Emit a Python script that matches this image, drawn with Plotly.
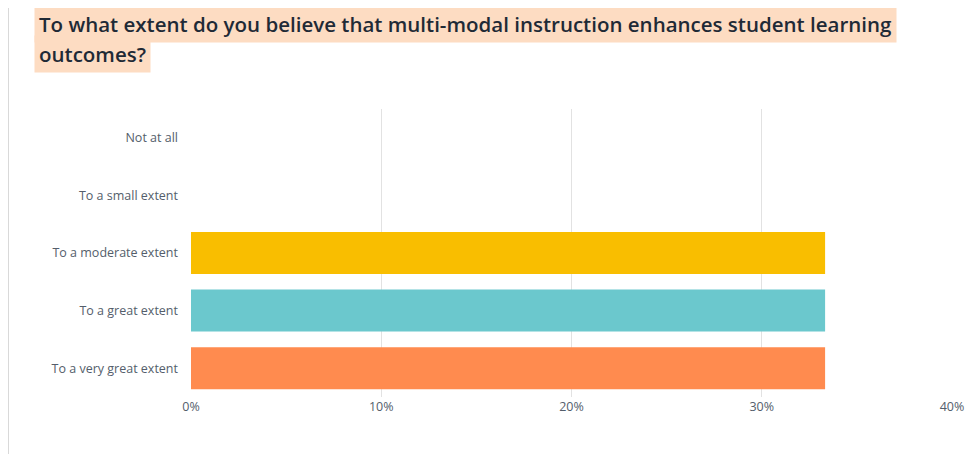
import plotly.graph_objects as go

categories = ["Not at all", "To a small extent", "To a moderate extent", "To a great extent", "To a very great extent"]
values = [0, 0, 33.33, 33.33, 33.33]
colors = ["#F9BE00", "#F9BE00", "#F9BE00", "#6BC8CD", "#FF8B4F"]
tick_vals = [0, 10, 20, 30, 40]
tick_text = ["0%", "10%", "20%", "30%", "40%"]

fig = go.Figure(go.Bar(
    y=categories, x=values, orientation="h",
    marker=dict(color=colors, line=dict(width=0)),
    hoverinfo="skip",
))

OFF = 8
W, H = 980, 454
L, R, T, B = 191 - OFF, 28 + OFF, 109 - OFF, 57 + OFF
pw = W - L - R
def px2paper(p):
    return (p - OFF - L) / pw
def py2paper(p):
    return (H - B - (p - OFF)) / (H - T - B)

tfont = dict(family="Open Sans", size=20.5, color="#1F2A36", weight=600)
fig.update_layout(
    width=W, height=H,
    margin=dict(l=L, r=R, t=T, b=B),
    paper_bgcolor="white", plot_bgcolor="white",
    bargap=0.27, showlegend=False,
    font=dict(family="Open Sans", size=12, color="#545E6B"),
    xaxis=dict(range=[0, 40], tickvals=tick_vals, ticktext=tick_text,
               showgrid=True, gridcolor="#E2E2E2", gridwidth=1, zeroline=False,
               showline=False, ticks="", tickfont=dict(size=12.5, color="#545E6B")),
    yaxis=dict(categoryorder="array", categoryarray=categories[::-1],
               showgrid=False, zeroline=False, ticks="", ticklen=0,
               ticklabelstandoff=12,
               tickfont=dict(size=12.5, color="#545E6B")),
    shapes=[dict(type="line", xref="paper", yref="paper",
                 x0=px2paper(8), x1=px2paper(8), y0=-1, y1=2,
                 line=dict(color="#D9D9D9", width=2))],
    annotations=[
        dict(text="To what extent do you believe that multi-modal instruction enhances student learning",
             xref="paper", yref="paper", x=px2paper(34), y=py2paper(24),
             xanchor="left", yanchor="middle", showarrow=False, bgcolor="#FDDCC2",
             borderpad=4, font=tfont),
        dict(text="outcomes?",
             xref="paper", yref="paper", x=px2paper(34), y=py2paper(54),
             xanchor="left", yanchor="middle", showarrow=False, bgcolor="#FDDCC2",
             borderpad=4, font=tfont),
    ],
)

fig.write_html("out.html")
